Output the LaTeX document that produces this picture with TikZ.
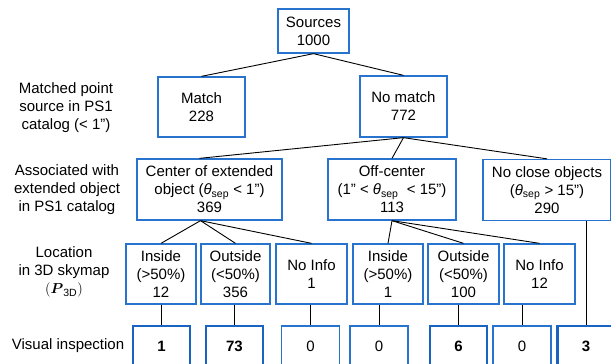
\documentclass[tikz,border=0pt]{standalone}
\usepackage{fontspec}
\usepackage{amsmath}
\setmainfont{Liberation Sans}
\definecolor{boxblue}{RGB}{40,115,205}
\definecolor{thickblue}{RGB}{25,100,195}
\newcommand{\thsep}{\textit{θ}\textsubscript{sep}}
\begin{document}
\begin{tikzpicture}[x=1pt,y=-1pt,
  every node/.style={font=\fontsize{15}{18}\selectfont, align=center, inner sep=0pt},
  box/.style={draw=boxblue, line width=1.3pt, fill=white},
  vbox/.style={box, minimum width=58pt, minimum height=40pt},
  vboxb/.style={draw=thickblue, line width=2.7pt, fill=white, minimum width=57pt, minimum height=40pt, font=\fontsize{15}{18}\selectfont\bfseries},
  lbl/.style={},
  conn/.style={draw=black, line width=0.9pt}]
\clip (0,0) rectangle (611,364);
\fill[white] (0,0) rectangle (611,364);

% level 1
\node[box, minimum width=71pt, minimum height=44pt] (src) at (313.5,31) {Sources\\1000};
% level 2
\node[box, minimum width=87pt, minimum height=60pt] (match) at (201.5,107) {Match\\228};
\node[box, minimum width=87pt, minimum height=61pt] (nomatch) at (403.5,106.5) {No match\\772};
% level 3
\node[box, minimum width=145pt, minimum height=61pt] (cen) at (209.5,189.5) {Center of extended\\object (\thsep{} < 1”)\\369};
\node[box, minimum width=128pt, minimum height=61pt] (off) at (392,189.5) {Off-center\\(1” < \thsep{}\ \ < 15”)\\113};
\node[box, minimum width=128pt, minimum height=61pt] (ncl) at (547,190) {No close objects\\(\thsep{} > 15”)\\290};
% level 4
\node[box, minimum width=70pt, minimum height=60pt] (in1) at (161,274) {Inside\\(>50\%)\\12};
\node[box, minimum width=69pt, minimum height=60pt] (out1) at (235.5,274) {Outside\\(<50\%)\\356};
\node[box, minimum width=71pt, minimum height=60pt] (ni1) at (311.5,274) {No Info\\1};
\node[box, minimum width=70pt, minimum height=60pt] (in2) at (388,274) {Inside\\(>50\%)\\1};
\node[box, minimum width=71pt, minimum height=60pt] (out2) at (463.5,274) {Outside\\(<50\%)\\100};
\node[box, minimum width=71pt, minimum height=60pt] (ni2) at (539.5,274) {No Info\\12};
% level 5
\node[vboxb] (v1) at (161.5,346) {1};
\node[vboxb] (v2) at (234.5,346) {73};
\node[vbox] (v3) at (310.5,346) {0};
\node[vbox] (v4) at (379,346) {0};
\node[vboxb] (v5) at (458.5,346) {6};
\node[vbox] (v6) at (522,346) {0};
\node[vboxb] (v7) at (586,346) {3};

% side labels
\node[lbl] (l1) at (66,108) {Matched point\\source in PS1\\catalog (< 1”)};
\node[lbl] (l2) at (67,190) {Associated with\\extended object\\in PS1 catalog};
\node[lbl] (l3) at (64,272) {Location\\in 3D skymap\\$(\boldsymbol{P}_{\mathrm{3D}})$};
\node[lbl] (l4) at (68,346) {Visual inspection};

% connectors
\draw[conn] (src.south) -- (match.north);
\draw[conn] (src.south) -- (nomatch.north);
\draw[conn] (nomatch.south) -- ([xshift=-10pt]cen.north);
\draw[conn] (nomatch.south) -- (off.north);
\draw[conn] (nomatch.south) -- (ncl.north);
\draw[conn] ([xshift=-9pt]cen.south) -- (in1.north);
\draw[conn] ([xshift=-9pt]cen.south) -- (out1.north);
\draw[conn] ([xshift=-9pt]cen.south) -- (ni1.north);
\draw[conn] (off.south) -- (in2.north);
\draw[conn] (off.south) -- (out2.north);
\draw[conn] (off.south) -- (ni2.north);
\draw[conn] (in1.south -| v1.north) -- (v1.north);
\draw[conn] (out1.south -| v2.north) -- (v2.north);
\draw[conn] (ni1.south -| v3.north) -- (v3.north);
\draw[conn] (in2.south -| v4.north) -- (v4.north);
\draw[conn] (out2.south -| v5.north) -- (v5.north);
\draw[conn] (ni2.south -| v6.north) -- (v6.north);
\draw[conn] (ncl.south -| v7.north) -- (v7.north);
\end{tikzpicture}
\end{document}
